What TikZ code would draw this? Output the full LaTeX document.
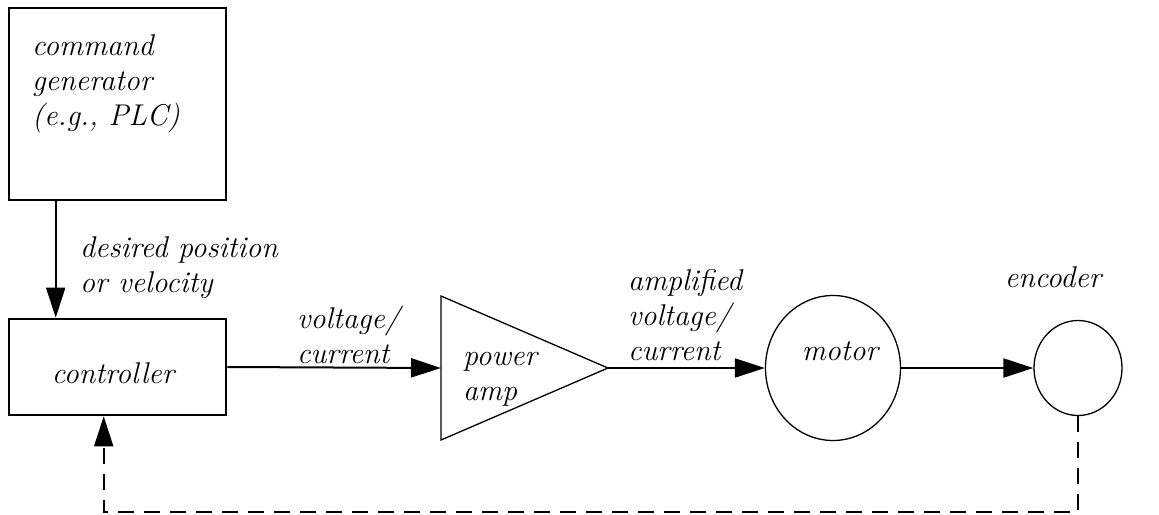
\documentclass[tikz,border=0pt]{standalone}
\usetikzlibrary{arrows.meta, positioning, shapes.geometric, calc}

\begin{document}
\begin{tikzpicture}[x=1pt, y=-1pt, line join=miter,
    font=\fontsize{30}{35}\selectfont\itshape,
    blk/.style={draw, line width=2.6pt, minimum width=217pt, inner sep=0pt},
    wheel/.style={draw, ellipse, line width=1.3pt, inner sep=0pt},
    sig/.style={line width=2pt, -{Triangle[length=30pt, width=19pt]}},
    fb/.style={sig, dash pattern=on 16pt off 10pt},
    lbl/.style={align=left, inner sep=0pt, anchor=north west}]
      \useasboundingbox (0,0) rectangle (1159,514);
      % blocks
      \node[blk, minimum height=192pt] (gen) at (117.5,104) {};
      \node[lbl] (gentext) at (32,34) {command\\generator\\(e.g., PLC)};
      \node[blk, minimum height=96pt] (ctrl) at (117.5,367) {};
      \node[anchor=base, inner sep=0pt] (ctrltext) at (113,383) {controller};
      \coordinate (ampin) at (441,368);
      \coordinate (ampout) at (608,368);
      \draw[line width=1.3pt] (441,296) -- (ampout) -- (441,440) -- cycle;
      \node[lbl] (amptext) at (463,352) {power\\amp};
      \node[wheel, minimum width=135pt, minimum height=145pt] (motor) at (833,368) {};
      \node[anchor=base, inner sep=0pt] (motortext) at (840,360) {motor};
      \node[wheel, minimum width=88pt, minimum height=95pt] (enc) at (1078,368) {};
      \node[anchor=base, inner sep=0pt] (enctext) at (1053,287) {encoder};
      % signals
      \draw[sig] ([xshift=48pt]gen.south west) -- ([xshift=48pt]ctrl.north west);
      \node[lbl] (desired) at (80,236) {desired position\\or velocity};
      \draw[sig] (ctrl.east) -- (ampin);
      \node[lbl] (vc) at (297,306) {voltage/\\current};
      \draw[sig] (ampout) -- (motor.west);
      \node[lbl] (avc) at (628,269) {amplified\\voltage/\\current};
      \draw[sig] (motor.east) -- (enc.west);
      % feedback
      \draw[fb] (enc.south) -- ++(0,96) -| ([xshift=96pt]ctrl.south west);
    \end{tikzpicture}
\end{document}
